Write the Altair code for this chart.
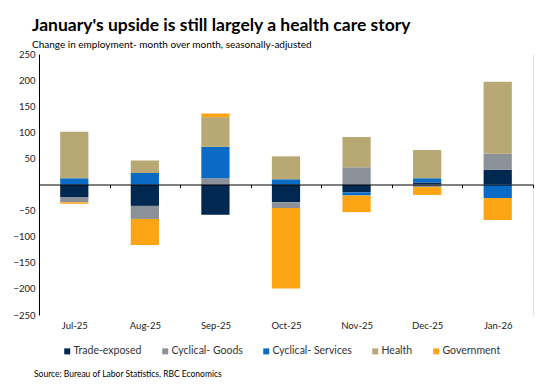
import altair as alt
import pandas as pd

months = ["Jul-25", "Aug-25", "Sep-25", "Oct-25", "Nov-25", "Dec-25", "Jan-26"]
series = ["Trade-exposed", "Cyclical- Goods", "Cyclical- Services", "Health", "Government"]
colors = ["#002850", "#8A9199", "#0A6BC6", "#B8A874", "#FDA414"]

trade_exposed = [-24, -41, -58, -34, -15, 4, 28]
cyclical_goods = [-10, -25, 12, -11, 33, -5, 31]
cyclical_services = [12, 22, 60, 10, -6, 8, -26]
health = [89, 24, 57, 44, 58, 54, 138]
government = [-3, -50, 7, -154, -32, -15, -42]

y_ticks = [-250, -200, -150, -100, -50, 0, 50, 100, 150, 200, 250]

rows = []
for i, name in enumerate(series):
    vals = [trade_exposed, cyclical_goods, cyclical_services, health, government][i]
    for m, v in zip(months, vals):
        rows.append({"month": m, "series": name, "value": v, "ord": i})
df = pd.DataFrame(rows)

FONT = "Lato"

bars = alt.Chart(df).mark_bar(width=alt.RelativeBandSize(0.4)).encode(
    x=alt.X(
        "month:N",
        sort=months,
        title=None,
        scale=alt.Scale(paddingInner=0, paddingOuter=0),
        axis=alt.Axis(
            orient="bottom",
            offset=-130.5,
            domain=True,
            domainColor="#000000",
            domainWidth=1.2,
            ticks=True,
            tickBand="extent",
            tickColor="#000000",
            tickSize=3,
            labelAngle=0,
            labelPadding=133,
            labelFont=FONT,
            labelFontSize=9.5,
            labelColor="#222222",
            grid=False,
            zindex=2,
        ),
    ),
    y=alt.Y(
        "value:Q",
        stack="zero",
        title=None,
        scale=alt.Scale(domain=[-250, 250], nice=False),
        axis=alt.Axis(
            values=y_ticks,
            labelExpr="datum.value == 0 ? '' : datum.label",
            format="d",
            domain=True,
            domainColor="#000000",
            domainWidth=1,
            ticks=False,
            labelPadding=4,
            labelFont=FONT,
            labelFontSize=9.5,
            labelColor="#222222",
            grid=True,
            gridColor="#FFFFFF",
            gridWidth=1.2,
            zindex=0,
        ),
    ),
    color=alt.Color(
        "series:N",
        scale=alt.Scale(domain=series, range=colors),
        legend=alt.Legend(
            title=None,
            orient="none",
            legendX=23,
            legendY=292,
            direction="horizontal",
            symbolType="square",
            symbolSize=36,
            symbolStrokeWidth=0,
            labelFont=FONT,
            labelFontSize=10.5,
            labelColor="#333333",
            labelOffset=1,
            columnPadding=18,
        ),
    ),
    order=alt.Order("ord:Q", sort="ascending"),
)

source = alt.Chart(pd.DataFrame({"t": ["Source: Bureau of Labor Statistics, RBC Economics"]})).mark_text(
    align="left", baseline="alphabetic", font=FONT, fontSize=8.5, color="#000000"
).encode(text="t:N", x=alt.value(-5), y=alt.value(323))

chart = alt.layer(bars, source).properties(
    width=494,
    height=261,
    autosize=alt.AutoSizeParams(type="none"),
    padding={"left": 31, "top": 46, "right": 2, "bottom": 68},
    title=alt.TitleParams(
        text="January's upside is still largely a health care story",
        subtitle="Change in employment- month over month, seasonally-adjusted",
        anchor="start",
        frame="group",
        dx=-7,
        offset=-1,
        font=FONT,
        fontSize=17.5,
        fontWeight="bold",
        color="#000000",
        subtitleFont=FONT,
        subtitleFontSize=10,
        subtitleColor="#000000",
        subtitlePadding=6,
    ),
).configure_view(fill="#EFF5FB", stroke=None).configure(background="#FFFFFF")

chart.save("out.html", embed_options={"renderer": "svg", "actions": False})
